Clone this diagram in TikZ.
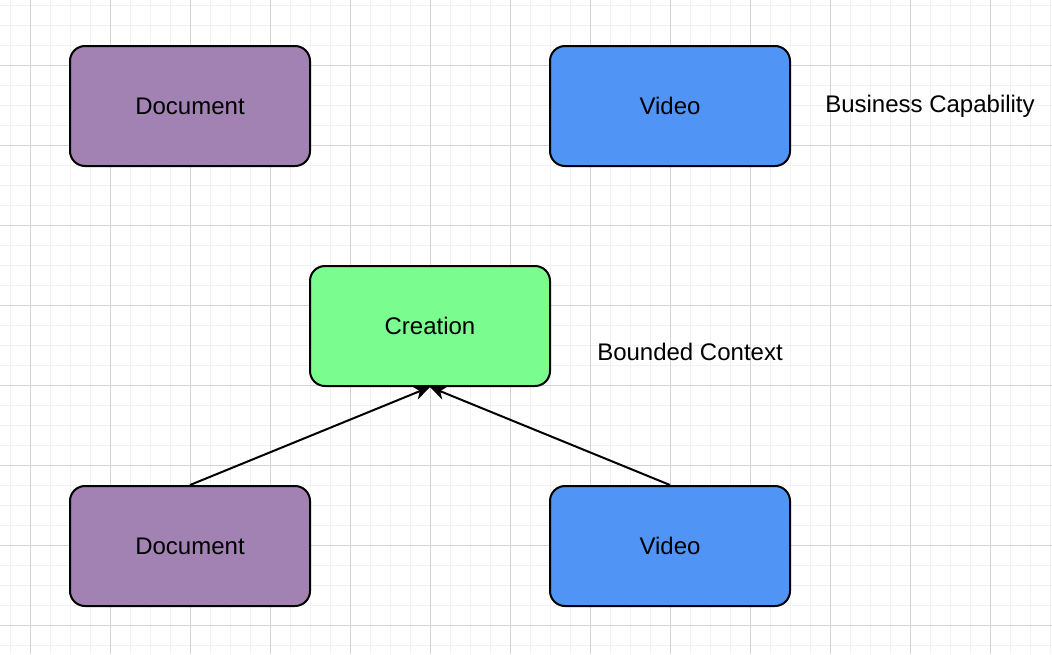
\documentclass[tikz,border=0pt]{standalone}
\usepackage{fontspec}
\setmainfont{Liberation Sans}
\usepackage{tikz}
\usetikzlibrary{arrows.meta}

\definecolor{docpurple}{HTML}{A182B3}
\definecolor{vidblue}{HTML}{5095F6}
\definecolor{creagreen}{HTML}{7AFD8E}
\definecolor{gridminor}{HTML}{F1F1F1}
\definecolor{gridmajor}{HTML}{D4D4D4}

\tikzset{
    capbox/.style = {draw, line width = 2pt, rounded corners = 15pt,
        minimum width = 240pt, minimum height = 120pt, font = \fontsize{24}{28}\selectfont},
    tag/.style = {font = \fontsize{24}{28}\selectfont},
    link/.style = {line width = 2pt, -{Stealth[length = 16pt, width = 14pt, inset = 5pt]}}
}

\begin{document}
\begin{tikzpicture}[x = 1pt, y = -1pt]
    \useasboundingbox (0, 0) rectangle (1052, 654);
    \fill [white] (0, 0) rectangle (1052, 654);
    % grid
    \foreach \x in {10, 30, ..., 1050} {
        \draw [gridminor, line width = 1pt] (\x, 0) -- (\x, 654);
    }
    \foreach \y in {5, 25, ..., 654} {
        \draw [gridminor, line width = 1pt] (0, \y) -- (1052, \y);
    }
    \foreach \x in {30, 110, ..., 1050} {
        \draw [gridmajor, line width = 1pt] (\x, 0) -- (\x, 654);
    }
    \foreach \y in {65, 145, ..., 654} {
        \draw [gridmajor, line width = 1pt] (0, \y) -- (1052, \y);
    }
    % business capability
    \node [capbox, fill = docpurple] (docTop) at (190, 106) {Document};
    \node [capbox, fill = vidblue] (vidTop) at (670, 106) {Video};
    \node [tag] (capLabel) at (930, 106) {Business Capability};
    % bounded context
    \node [capbox, fill = creagreen] (creation) at (430, 326) {Creation};
    \node [tag] (ctxLabel) at (690, 352) {Bounded Context};
    \node [capbox, fill = docpurple] (docBot) at (190, 546) {Document};
    \node [capbox, fill = vidblue] (vidBot) at (670, 546) {Video};
    \draw [link] (docBot.north) -- (creation.south);
    \draw [link] (vidBot.north) -- (creation.south);
\end{tikzpicture}
\end{document}
